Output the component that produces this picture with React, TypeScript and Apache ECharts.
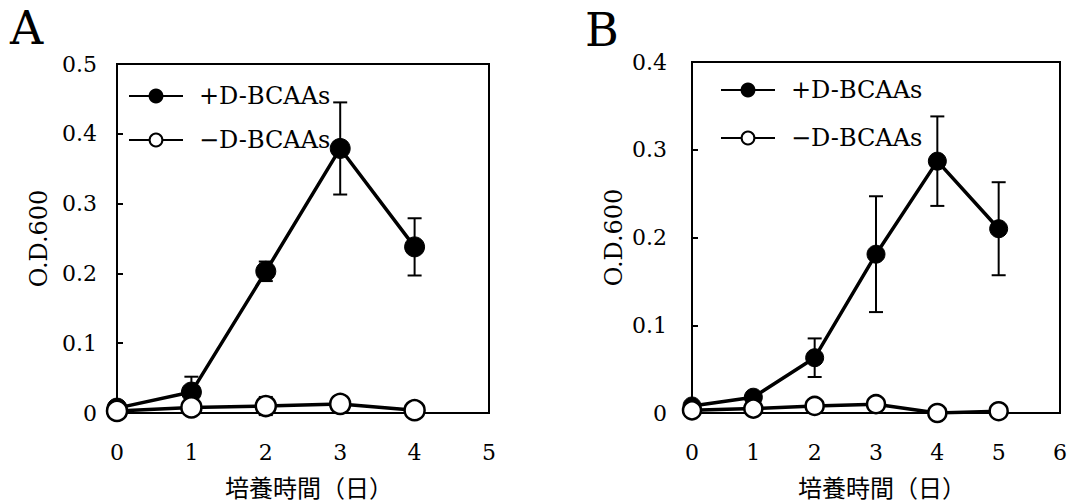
import React, { useEffect, useRef } from "react";
import * as echarts from "echarts";

// ---- Data ----
const daysA = [0, 1, 2, 3, 4];
const plusA = [0.007, 0.03, 0.203, 0.379, 0.238];
const plusA_sd = [0.002, 0.022, 0.014, 0.066, 0.041];
const minusA = [0.003, 0.008, 0.01, 0.013, 0.004];
const minusA_sd = [0.001, 0.003, 0.013, 0.011, 0.002];

const daysB = [0, 1, 2, 3, 4, 5];
const plusB = [0.008, 0.018, 0.063, 0.181, 0.287, 0.21];
const plusB_sd = [0.002, 0.004, 0.022, 0.066, 0.051, 0.053];
const minusB = [0.003, 0.005, 0.008, 0.01, 0.0, 0.002];
const minusB_sd = [0.001, 0.002, 0.002, 0.003, 0.001, 0.002];

const seriesNames = ["+D-BCAAs", "\u2212D-BCAAs"];
const panelLabels = ["A", "B"];
const yAxisTitle = "O.D.600";
const xAxisTitle = "培養時間（日）";

const SERIF = "DejaVu Serif";
const CJK = "Noto Sans CJK JP";

function pairs(xs: number[], ys: number[]) {
  return xs.map((x, i) => [x, ys[i]]);
}
function errs(xs: number[], ys: number[], sd: number[]) {
  return xs.map((x, i) => [x, ys[i] - sd[i], ys[i] + sd[i]]);
}

const errorRender = (params: any, api: any) => {
  const x = api.value(0);
  const lo = api.value(1);
  const hi = api.value(2);
  const top = api.coord([x, hi]);
  const bot = api.coord([x, lo]);
  const hw = 7;
  const st = { stroke: "#000", lineWidth: 2 };
  return {
    type: "group",
    children: [
      { type: "line", shape: { x1: top[0], y1: top[1], x2: bot[0], y2: bot[1] }, style: st },
      { type: "line", shape: { x1: top[0] - hw, y1: top[1], x2: top[0] + hw, y2: top[1] }, style: st },
      { type: "line", shape: { x1: bot[0] - hw, y1: bot[1], x2: bot[0] + hw, y2: bot[1] }, style: st },
    ],
  };
};

export default function App() {
  const ref = useRef<HTMLDivElement>(null);
  useEffect(() => {
    if (!ref.current) return;
    const chart = echarts.init(ref.current, undefined, { renderer: "svg" });

    const yAxisBase = (max: number, gi: number, margin: number) => ({
      type: "value",
      gridIndex: gi,
      min: 0,
      max,
      interval: 0.1,
      axisLine: { show: true, lineStyle: { color: "#000", width: 2 } },
      axisTick: { show: true, inside: true, length: 6, lineStyle: { color: "#000", width: 2 } },
      splitLine: { show: false },
      axisLabel: { color: "#000", fontSize: 22, fontFamily: SERIF, margin },
      name: yAxisTitle,
      nameLocation: "middle",
      nameGap: 66,
      nameTextStyle: { color: "#000", fontSize: 24, fontFamily: SERIF },
    });
    const xAxisBase = (max: number, gi: number) => ({
      type: "value",
      gridIndex: gi,
      min: 0,
      max,
      interval: 1,
      axisLine: { show: true, lineStyle: { color: "#000", width: 2 } },
      axisTick: { show: false },
      splitLine: { show: false },
      axisLabel: { color: "#000", fontSize: 22, fontFamily: SERIF, margin: 28 },
      name: xAxisTitle,
      nameLocation: "middle",
      nameGap: 61,
      nameTextStyle: { color: "#000", fontSize: 24, fontFamily: CJK, padding: [0, 0, 0, 12] },
    });

    const lineSeries = (name: string, gi: number, data: number[][], filled: boolean, size: number) => ({
      type: "line",
      name,
      xAxisIndex: gi,
      yAxisIndex: gi,
      data,
      symbol: "circle",
      symbolSize: size,
      z: 3,
      lineStyle: { color: "#000", width: 3.5 },
      itemStyle: filled
        ? { color: "#000", borderColor: "#000", borderWidth: 1 }
        : { color: "#fff", borderColor: "#000", borderWidth: 2.5 },
    });
    const errSeries = (gi: number, data: number[][]) => ({
      type: "custom",
      xAxisIndex: gi,
      yAxisIndex: gi,
      data,
      z: 2,
      clip: false,
      renderItem: errorRender,
      encode: { x: 0, y: [1, 2] },
    });

    const legendBase = {
      orient: "vertical",
      padding: 0,
      itemWidth: 54,
      itemHeight: 16,
      data: seriesNames,
      textStyle: { color: "#000", fontSize: 24, fontFamily: SERIF, padding: [0, 0, 0, 11] },
    };

    chart.setOption({
      animation: false,
      backgroundColor: "#fff",
      title: [
        { text: panelLabels[0], left: 10, top: 5, padding: 0, textStyle: { fontSize: 46, fontFamily: SERIF, fontWeight: "normal", color: "#000" } },
        { text: panelLabels[1], left: 585, top: 7, padding: 0, textStyle: { fontSize: 46, fontFamily: SERIF, fontWeight: "normal", color: "#000" } },
      ],
      legend: [
        { ...legendBase, left: 128, top: 84, itemGap: 20 },
        { ...legendBase, left: 720, top: 78, itemGap: 24 },
      ],
      grid: [
        { left: 117, top: 64, width: 372, height: 355, show: true, borderColor: "#000", borderWidth: 2, containLabel: false },
        { left: 692, top: 62, width: 368, height: 357, show: true, borderColor: "#000", borderWidth: 2, containLabel: false },
      ],
      xAxis: [xAxisBase(5, 0), xAxisBase(6, 1)],
      yAxis: [yAxisBase(0.5, 0, 20), yAxisBase(0.4, 1, 25)],
      series: [
        errSeries(0, errs(daysA, plusA, plusA_sd)),
        errSeries(0, errs(daysA, minusA, minusA_sd)),
        lineSeries(seriesNames[0], 0, pairs(daysA, plusA), true, 20),
        lineSeries(seriesNames[1], 0, pairs(daysA, minusA), false, 20),
        errSeries(1, errs(daysB, plusB, plusB_sd)),
        errSeries(1, errs(daysB, minusB, minusB_sd)),
        lineSeries(seriesNames[0], 1, pairs(daysB, plusB), true, 18),
        lineSeries(seriesNames[1], 1, pairs(daysB, minusB), false, 18),
      ],
    });
    return () => chart.dispose();
  }, []);
  return <div ref={ref} style={{ position: "fixed", left: 0, top: 0, width: 1088, height: 503 }} />;
}
